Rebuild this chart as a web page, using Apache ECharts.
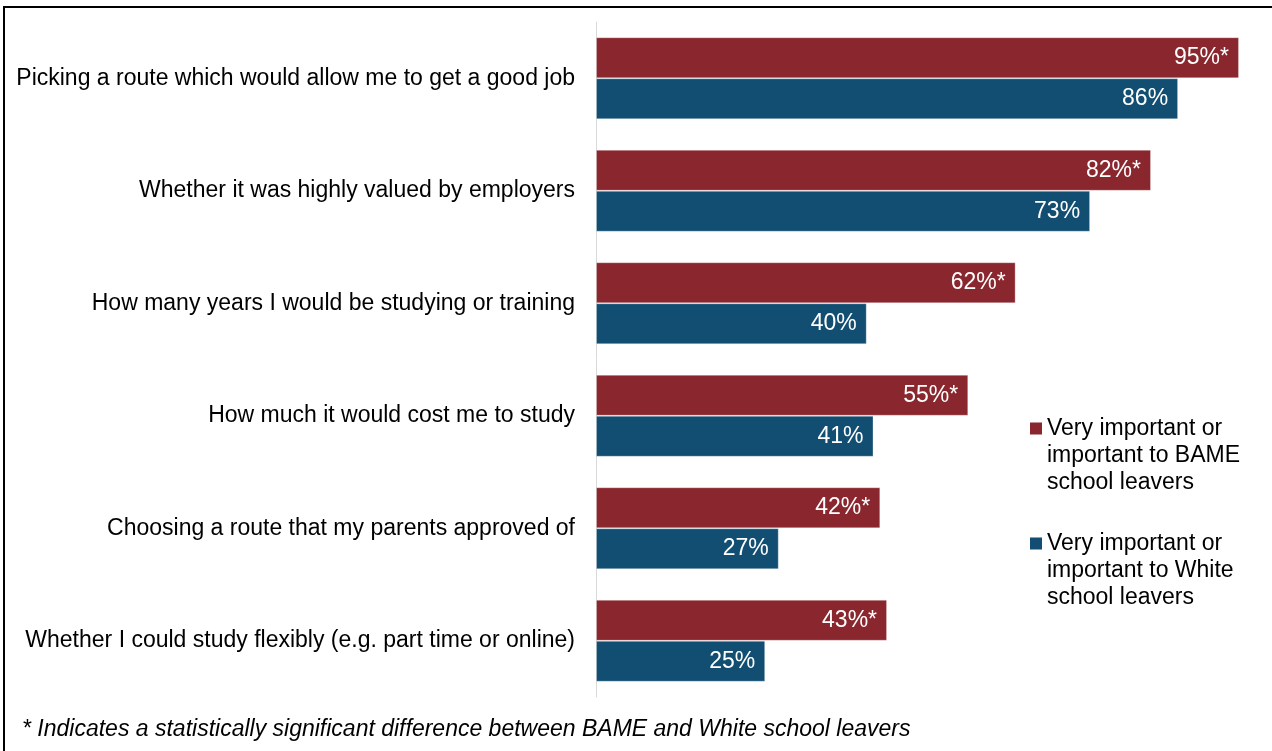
<!DOCTYPE html>
<html>
<head>
<meta charset="utf-8">
<style>
  html, body { margin: 0; padding: 0; background: #fff; }
  #chart-container { width: 1272px; height: 751px; }
</style>
<script src="https://cdn.jsdelivr.net/npm/echarts@6/dist/echarts.min.js"></script>
</head>
<body>
<div id="chart-container"></div>
<script>
var categories = [
    'Picking a route which would allow me to get a good job',
    'Whether it was highly valued by employers',
    'How many years I would be studying or training',
    'How much it would cost me to study',
    'Choosing a route that my parents approved of',
    'Whether I could study flexibly (e.g. part time or online)'
];
var bameValues = [95, 82, 62, 55, 42, 43];
var whiteValues = [86, 73, 40, 41, 27, 25];
var seriesNames = [
    'Very important or\nimportant to BAME\nschool leavers',
    'Very important or\nimportant to White\nschool leavers'
];
var footnote = '* Indicates a statistically significant difference between BAME and White school leavers';

var dom = document.getElementById('chart-container');
var myChart = echarts.init(dom, null, {
    renderer: 'canvas',
    useDirtyRect: false
});

var font = '"Liberation Sans", Arial, sans-serif';
// square at the top of a tall icon box, so it lines up with the first text line
var legendIcon = 'path://M0,0L12,0L12,12L0,12Z M0,66L0.01,66Z';

var option = {
    animation: false,
    textStyle: { fontFamily: font },
    title: {
        text: footnote,
        left: 22,
        top: 718,
        padding: 0,
        textStyle: {
            fontFamily: font,
            fontSize: 23,
            fontStyle: 'italic',
            fontWeight: 'normal',
            color: '#000'
        }
    },
    legend: {
        data: seriesNames,
        left: 1030,
        top: 415,
        padding: 0,
        orient: 'vertical',
        itemWidth: 12,
        itemHeight: 66,
        itemGap: 34,
        icon: legendIcon,
        selectedMode: false,
        itemStyle: { borderWidth: 0 },
        textStyle: {
            fontFamily: font,
            fontSize: 23,
            lineHeight: 27,
            color: '#000'
        }
    },
    grid: {
        left: 596,
        right: 33,
        top: 22,
        bottom: 54,
        containLabel: false
    },
    xAxis: {
        type: 'value',
        min: 0,
        max: 95,
        show: false
    },
    yAxis: {
        type: 'category',
        data: categories,
        inverse: true,
        axisLine: { lineStyle: { color: '#d9d9d9', width: 1 } },
        axisTick: { show: false },
        axisLabel: {
            fontFamily: font,
            fontSize: 23,
            color: '#000',
            margin: 21
        }
    },
    series: [
        {
            name: seriesNames[0],
            type: 'bar',
            data: bameValues,
            barWidth: 41,
            barGap: '0%',
            itemStyle: { color: '#8a262d', borderColor: 'rgba(255,255,255,0.3)', borderWidth: 1 },
            label: {
                show: true,
                position: 'insideRight',
                distance: 10,
                color: '#fff',
                fontFamily: font,
                fontSize: 23,
                formatter: function (p) { return p.value + '%*'; }
            }
        },
        {
            name: seriesNames[1],
            type: 'bar',
            data: whiteValues,
            barWidth: 41,
            itemStyle: { color: '#124e72', borderColor: 'rgba(255,255,255,0.3)', borderWidth: 1 },
            label: {
                show: true,
                position: 'insideRight',
                distance: 10,
                color: '#fff',
                fontFamily: font,
                fontSize: 23,
                formatter: function (p) { return p.value + '%'; }
            }
        }
    ],
    graphic: [
        {
            type: 'rect',
            silent: true,
            shape: { x: 4, y: 7, width: 1300, height: 800 },
            style: { fill: 'none', stroke: '#000', lineWidth: 2 }
        }
    ]
};

if (option && typeof option === 'object') {
    myChart.setOption(option);
}

window.addEventListener('resize', myChart.resize);
</script>
</body>
</html>
